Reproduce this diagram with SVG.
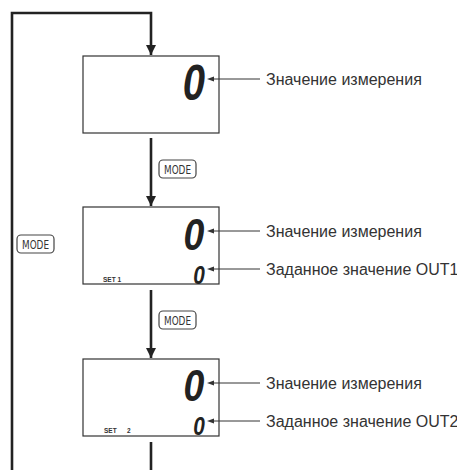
<svg xmlns="http://www.w3.org/2000/svg" width="457" height="470" viewBox="0 0 457 470">
<style>
.box{fill:#fff;stroke:#333;stroke-width:1.2}
.flow{fill:none;stroke:#222;stroke-width:2.6}
.lbl{fill:none;stroke:#333;stroke-width:1}
.ah{fill:#333}
.txt{font-family:"Liberation Sans",Arial,sans-serif;font-size:16px;fill:#333}
.dig{font-family:"Liberation Sans",Arial,sans-serif;font-weight:bold;font-style:italic;fill:#222;text-anchor:middle}
.set{font-family:"Liberation Sans",Arial,sans-serif;font-weight:bold;font-size:6.5px;fill:#333}
.btn{fill:#fff;stroke:#444;stroke-width:1.2}
.btxt{font-family:"Liberation Sans Narrow","DejaVu Sans Condensed",sans-serif;font-size:12px;fill:#333;text-anchor:middle}
</style>
<defs>
<marker id="big" viewBox="0 0 10 10" refX="10" refY="5" markerWidth="4" markerHeight="4" markerUnits="strokeWidth" orient="auto"><path d="M0,0 L10,5 L0,10 z" fill="#222"/></marker>
</defs>
<g id="mode1"><rect class="btn" x="159" y="160" width="37" height="18" rx="4"/><text class="btxt" x="177.5" y="173.5" textLength="27" lengthAdjust="spacingAndGlyphs">MODE</text></g>
<g id="mode2"><rect class="btn" x="159" y="311" width="37" height="18" rx="4"/><text class="btxt" x="177.5" y="324.5" textLength="27" lengthAdjust="spacingAndGlyphs">MODE</text></g>
<g id="mode3"><rect class="btn" x="17" y="235" width="37" height="18" rx="4"/><text class="btxt" x="35.5" y="248.5" textLength="27" lengthAdjust="spacingAndGlyphs">MODE</text></g>
<g id="display1">
<rect class="box" x="83" y="56" width="136" height="77"/>
<text class="dig" font-size="50" transform="translate(194,100) scale(0.8,1)">0</text>
</g>
<g id="display2">
<rect class="box" x="83" y="207" width="136" height="77"/>
<text class="dig" font-size="44" transform="translate(194,250) scale(0.85,1)">0</text>
<text class="dig" font-size="26" transform="translate(199,284) scale(0.8,1)">0</text>
<text class="set" x="103" y="282">SET 1</text>
</g>
<g id="display3">
<rect class="box" x="83" y="359" width="136" height="77"/>
<text class="dig" font-size="44" transform="translate(194,401) scale(0.85,1)">0</text>
<text class="dig" font-size="26" transform="translate(199,435) scale(0.8,1)">0</text>
<text class="set" x="104" y="433">SET</text>
<text class="set" x="127" y="433">2</text>
</g>
<g id="connectors">
<path class="flow" d="M12,470 V13 H151 V55" marker-end="url(#big)"/>
<path class="flow" d="M151,138 V206" marker-end="url(#big)"/>
<path class="flow" d="M151,290 V358" marker-end="url(#big)"/>
<path class="flow" d="M151,442 V470"/>
<path class="lbl" d="M260,79 H212"/><path class="ah" d="M207,79 L214,76.5 L214,81.5 z"/>
<path class="lbl" d="M260,231 H212"/><path class="ah" d="M207,231 L214,228.5 L214,233.5 z"/>
<path class="lbl" d="M260,269 H212"/><path class="ah" d="M207,269 L214,266.5 L214,271.5 z"/>
<path class="lbl" d="M260,383 H212"/><path class="ah" d="M207,383 L214,380.5 L214,385.5 z"/>
<path class="lbl" d="M260,421 H212"/><path class="ah" d="M207,421 L214,418.5 L214,423.5 z"/>
</g>
<g id="labels">
<text class="txt" x="266" y="85">Значение измерения</text>
<text class="txt" x="266" y="237">Значение измерения</text>
<text class="txt" x="266" y="275">Заданное значение OUT1</text>
<text class="txt" x="266" y="389">Значение измерения</text>
<text class="txt" x="266" y="427">Заданное значение OUT2</text>
</g>
</svg>
